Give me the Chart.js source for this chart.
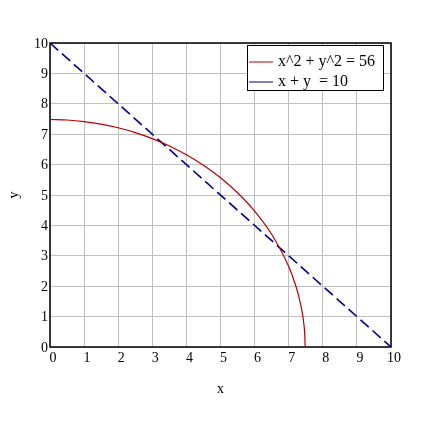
<!DOCTYPE html>
<html>
<head>
<meta charset="utf-8">
<script src="https://cdn.jsdelivr.net/npm/chart.js@4"></script>
<style>
  html, body { margin: 0; padding: 0; background: #fff; }
  #wrap { width: 448px; height: 423px; }
</style>
</head>
<body>
<div id="wrap"><canvas id="chart" width="448" height="423"></canvas></div>
<script>
// circle x^2 + y^2 = 56
var circleX = [0, 0.5, 1, 1.5, 2, 2.5, 3, 3.5, 4, 4.5, 5, 5.5, 6, 6.5, 7, 7.2, 7.3, 7.4, 7.45, 7.47, 7.483];
var circleY = [7.483, 7.467, 7.416, 7.331, 7.211, 7.053, 6.856, 6.614, 6.325, 5.979, 5.568, 5.074, 4.472, 3.708, 2.646, 2.04, 1.646, 1.114, 0.705, 0.44, 0];
// straight line x + y = 10
var lineX = [0, 10];
var lineY = [10, 0];
var seriesLabels = ['x^2 + y^2 = 56', 'x + y  = 10'];
var seriesColors = ['#b40000', '#00008b'];

var FONT = '"Liberation Serif", "Times New Roman", serif';

function toPoints(xs, ys) {
    return xs.map(function(x, i) { return { x: x, y: ys[i] }; });
}

// black frame round the plot area
var framePlugin = {
    id: 'frame',
    beforeDatasetsDraw: function(chart) {
        var a = chart.chartArea, ctx = chart.ctx;
        ctx.save();
        ctx.strokeStyle = '#000';
        ctx.lineWidth = 1.5;
        ctx.strokeRect(a.left, a.top, a.right - a.left, a.bottom - a.top);
        ctx.restore();
    }
};

// boxed legend in the top right corner
var legendBox = {
    id: 'legendBox',
    afterDraw: function(chart) {
        var a = chart.chartArea, ctx = chart.ctx;
        var w = 136, h = 45;
        var x = a.right - 8 - w, y = a.top + 2;
        ctx.save();
        ctx.fillStyle = '#fff';
        ctx.fillRect(x, y, w, h);
        ctx.strokeStyle = '#000';
        ctx.lineWidth = 1;
        ctx.strokeRect(x + 0.5, y + 0.5, w, h);
        ctx.font = '16px ' + FONT;
        ctx.textBaseline = 'middle';
        chart.data.datasets.forEach(function(ds, i) {
            var ly = y + 17 + i * 20;
            ctx.strokeStyle = ds.borderColor;
            ctx.lineWidth = 1;
            ctx.beginPath();
            ctx.moveTo(x + 2, ly);
            ctx.lineTo(x + 26, ly);
            ctx.stroke();
            ctx.fillStyle = '#000';
            ctx.fillText(ds.label, x + 31, ly);
        });
        ctx.restore();
    }
};

new Chart(document.getElementById('chart'), {
    type: 'scatter',
    data: {
        datasets: [{
            label: seriesLabels[0],
            data: toPoints(circleX, circleY),
            showLine: true,
            borderColor: seriesColors[0],
            borderWidth: 1.2,
            pointRadius: 0,
            cubicInterpolationMode: 'monotone'
        }, {
            label: seriesLabels[1],
            data: toPoints(lineX, lineY),
            showLine: true,
            borderColor: seriesColors[1],
            borderWidth: 1.6,
            borderDash: [11, 5],
            pointRadius: 0
        }]
    },
    options: {
        responsive: false,
        animation: false,
        layout: { padding: { top: 43, right: 57, left: 0, bottom: 0 } },
        plugins: {
            legend: { display: false },
            tooltip: { enabled: false }
        },
        scales: {
            x: {
                type: 'linear',
                min: 0,
                max: 10,
                afterFit: function(s) { s.height = 76; },
                ticks: { stepSize: 1, color: '#000', font: { family: FONT, size: 14 }, padding: 3, labelOffset: 3 },
                grid: { color: '#c0c0c0', drawTicks: false },
                border: { display: false },
                title: { display: true, text: 'x', color: '#000', font: { family: FONT, size: 14 }, padding: { top: 0, bottom: 25 } }
            },
            y: {
                type: 'linear',
                min: 0,
                max: 10,
                afterFit: function(s) { s.width = 50; },
                ticks: { stepSize: 1, color: '#000', font: { family: FONT, size: 14 }, padding: 2, labelOffset: 1 },
                grid: { color: '#c0c0c0', drawTicks: false },
                border: { display: false },
                title: { display: true, text: 'y', color: '#000', font: { family: FONT, size: 14 }, padding: { top: 6, bottom: 0 } }
            }
        }
    },
    plugins: [framePlugin, legendBox]
});
</script>
</body>
</html>
